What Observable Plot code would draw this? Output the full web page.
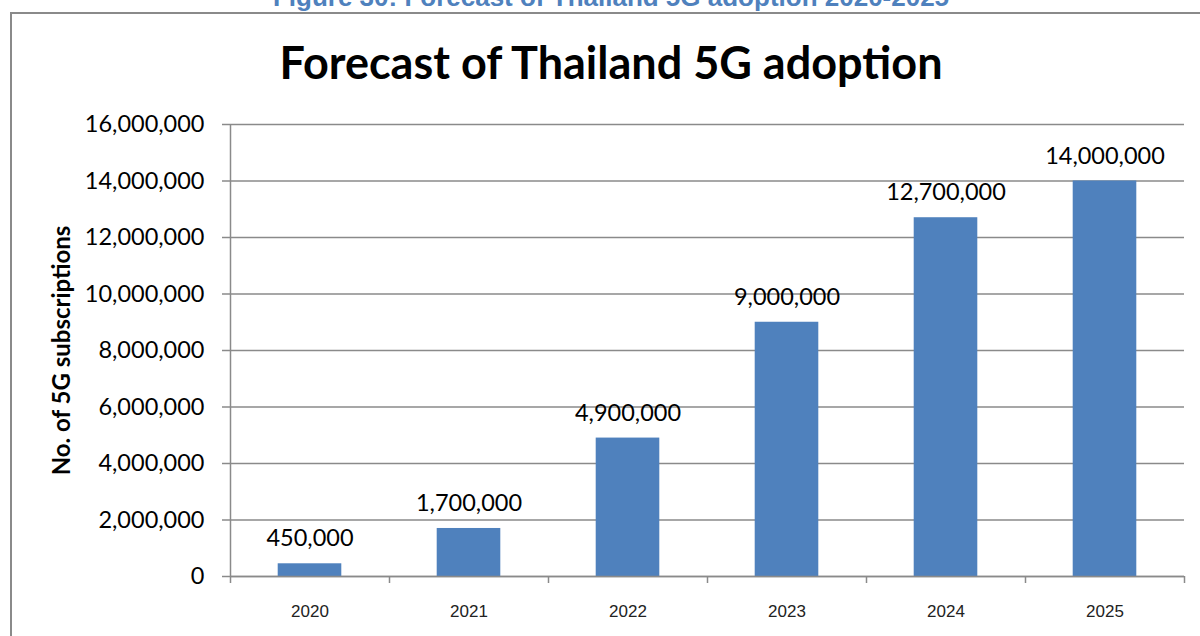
<!DOCTYPE html>
<html>
<head>
<meta charset="utf-8">
<script src="https://cdn.jsdelivr.net/npm/d3@7"></script>
<script src="https://cdn.jsdelivr.net/npm/@observablehq/plot@0.6"></script>
<style>
  html, body { margin: 0; padding: 0; background: #fff; overflow: hidden; }
  #page { position: relative; width: 1200px; height: 636px; overflow: hidden; }
  #frame { position: absolute; left: 10px; top: 12px; width: 1210px; height: 660px;
           border: 2px solid #8a8a8a; box-sizing: border-box; }
  #caption { position: absolute; left: 0; width: 1222px; top: -18px; text-align: center;
             font: bold 26px "Liberation Sans", Arial, sans-serif; line-height: 30px;
             color: #4f81bd; white-space: nowrap; }
  #title { position: absolute; left: 0; width: 1222px; top: 35px; text-align: center;
           font: bold 45px Lato, "Noto Sans", sans-serif; color: #000; white-space: nowrap; }
  #chart { position: absolute; left: 0; top: 0; }
</style>
</head>
<body>
<div id="page">
  <div id="caption">Figure 30: Forecast of Thailand 5G adoption 2020-2025</div>
  <div id="frame"></div>
  <div id="title">Forecast of Thailand 5G adoption</div>
  <div id="chart"></div>
</div>
<script>
// Forecast subscriptions per year
const years = [2020, 2021, 2022, 2023, 2024, 2025];
const subscriptions = [450000, 1700000, 4900000, 9000000, 12700000, 14000000];
const yTicks = [0, 2000000, 4000000, 6000000, 8000000, 10000000, 12000000, 14000000, 16000000];
const yLabel = "No. of 5G subscriptions";

const data = years.map((year, i) => ({year, value: subscriptions[i]}));
// category boundaries carry the tick marks on the x axis
const boundaries = years.map(y => y - 0.5).concat([years[years.length - 1] + 0.5]);
const half = 0.2; // half bar width in category units

const grey = "#8a8a8a";
const fmt = d3.format(",");
const sans = "Lato, 'Noto Sans', sans-serif";

const chart = Plot.plot({
  width: 1200,
  height: 636,
  marginLeft: 230,
  marginRight: 16,
  marginTop: 124,
  marginBottom: 60,
  style: {background: "transparent", overflow: "visible"},
  x: {domain: [years[0] - 0.5, years[years.length - 1] + 0.5]},
  y: {domain: [0, 16000000]},
  marks: [
    Plot.gridY(yTicks, {stroke: grey, strokeOpacity: 1, strokeWidth: 1.5}),
    Plot.rectY(data, {x1: d => d.year - half, x2: d => d.year + half, y: "value", fill: "#4f81bd"}),
    Plot.ruleY([0], {stroke: grey, strokeWidth: 1.5}),
    Plot.ruleX([years[0] - 0.5], {stroke: grey, strokeWidth: 1.5}),
    Plot.axisY({ticks: yTicks, tickFormat: fmt, tickSize: 8, tickPadding: 18, stroke: grey, strokeWidth: 1.5,
      fontSize: 23.5, fontFamily: sans, fill: "#000", label: null}),
    Plot.axisX({ticks: boundaries, tickFormat: () => "", tickSize: 7, stroke: grey, strokeWidth: 1.5, label: null}),
    Plot.axisX({ticks: years, tickFormat: d => String(d), tickSize: 0, tickPadding: 28,
      fontSize: 17, fontFamily: "'Liberation Sans', Arial, sans-serif", fill: "#222", label: null}),
    Plot.text(data, {x: "year", y: "value", text: d => fmt(d.value), dy: -25,
      fontSize: 23.5, fontFamily: sans, fill: "#000"}),
    Plot.text([yLabel], {frameAnchor: "left", dx: -168, rotate: -90, text: d => d, textAnchor: "middle",
      fontSize: 24, fontWeight: "bold", fontFamily: sans, fill: "#000"})
  ]
});
document.getElementById("chart").appendChild(chart);
</script>
</body>
</html>
